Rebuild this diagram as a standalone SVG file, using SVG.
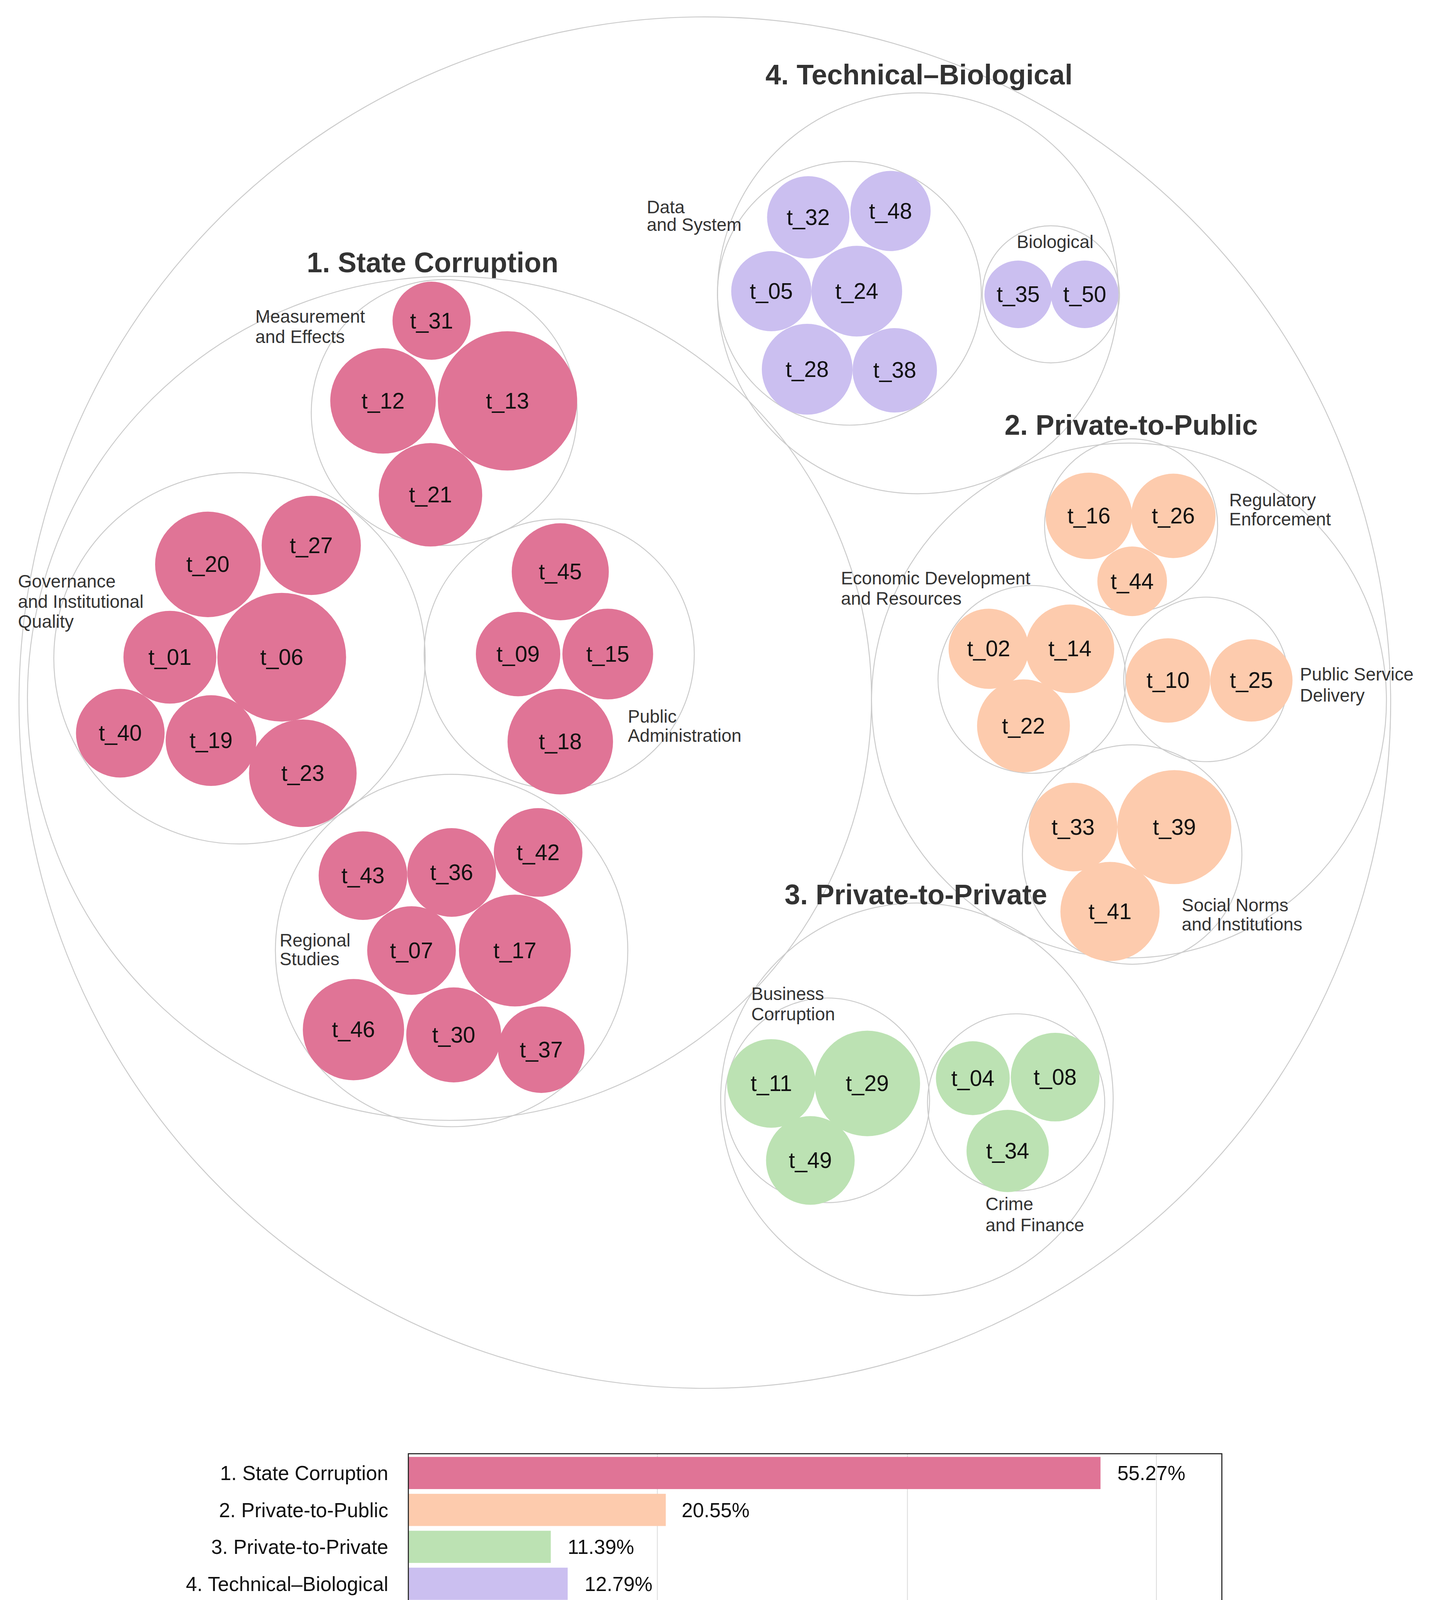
<svg xmlns="http://www.w3.org/2000/svg" width="3673" height="4226" viewBox="0 0 3673 4226">
<style>
.c{fill:none;stroke:#cbcbcb;stroke-width:0.9}
.p{fill:#e07496}.o{fill:#fdcbad}.g{fill:#bce2b3}.l{fill:#cbbff0}
text{font-family:"Liberation Sans",Arial,sans-serif;fill:#111}
.t{font-size:21px;text-anchor:middle;dominant-baseline:central}
.h{font-size:26.5px;font-weight:bold;text-anchor:middle;fill:#333}
.s{font-size:17px;fill:#333}
.b{font-size:19px}
</style>
<rect width="3673" height="4226" fill="#fff"/>
<g transform="scale(2.7007)">
<circle class="c" cx="668" cy="666" r="650"/>
<g id="g1">
<circle class="c" cx="426" cy="662" r="400"/>
<text class="h" x="410" y="258">1. State Corruption</text>
<g id="meas"><circle class="c" cx="421" cy="391" r="126"/>
<text class="s" x="242" y="306">Measurement</text><text class="s" x="242" y="325">and Effects</text>
<circle class="p" cx="409" cy="304" r="37"/><text class="t" x="409" y="304">t_31</text>
<circle class="p" cx="363" cy="380" r="50"/><text class="t" x="363" y="380">t_12</text>
<circle class="p" cx="481" cy="380" r="66"/><text class="t" x="481" y="380">t_13</text>
<circle class="p" cx="408" cy="469" r="49"/><text class="t" x="408" y="469">t_21</text></g>
<g id="gov"><circle class="c" cx="227" cy="624" r="176"/>
<text class="s" x="17" y="557">Governance</text><text class="s" x="17" y="576">and Institutional</text><text class="s" x="17" y="595">Quality</text>
<circle class="p" cx="197" cy="535" r="50"/><text class="t" x="197" y="535">t_20</text>
<circle class="p" cx="295" cy="517" r="47"/><text class="t" x="295" y="517">t_27</text>
<circle class="p" cx="161" cy="623" r="44"/><text class="t" x="161" y="623">t_01</text>
<circle class="p" cx="267" cy="623" r="61"/><text class="t" x="267" y="623">t_06</text>
<circle class="p" cx="114" cy="695" r="42"/><text class="t" x="114" y="695">t_40</text>
<circle class="p" cx="200" cy="702" r="43"/><text class="t" x="200" y="702">t_19</text>
<circle class="p" cx="287" cy="733" r="51"/><text class="t" x="287" y="733">t_23</text></g>
<g id="pub"><circle class="c" cx="530" cy="620" r="128"/>
<text class="s" x="595" y="685">Public</text><text class="s" x="595" y="703">Administration</text>
<circle class="p" cx="531" cy="542" r="46"/><text class="t" x="531" y="542">t_45</text>
<circle class="p" cx="491" cy="620" r="40"/><text class="t" x="491" y="620">t_09</text>
<circle class="p" cx="576" cy="620" r="43"/><text class="t" x="576" y="620">t_15</text>
<circle class="p" cx="531" cy="703" r="50"/><text class="t" x="531" y="703">t_18</text></g>
<g id="reg"><circle class="c" cx="428" cy="901" r="167"/>
<text class="s" x="265" y="897">Regional</text><text class="s" x="265" y="915">Studies</text>
<circle class="p" cx="344" cy="830" r="42"/><text class="t" x="344" y="830">t_43</text>
<circle class="p" cx="428" cy="827" r="42"/><text class="t" x="428" y="827">t_36</text>
<circle class="p" cx="510" cy="808" r="42"/><text class="t" x="510" y="808">t_42</text>
<circle class="p" cx="390" cy="901" r="42"/><text class="t" x="390" y="901">t_07</text>
<circle class="p" cx="488" cy="901" r="53"/><text class="t" x="488" y="901">t_17</text>
<circle class="p" cx="335" cy="976" r="48"/><text class="t" x="335" y="976">t_46</text>
<circle class="p" cx="430" cy="981" r="45"/><text class="t" x="430" y="981">t_30</text>
<circle class="p" cx="513" cy="995" r="41"/><text class="t" x="513" y="995">t_37</text></g>
</g>
<g id="g4">
<circle class="c" cx="870" cy="278" r="190"/>
<text class="h" x="871" y="80">4. Technical–Biological</text>
<g id="data"><circle class="c" cx="805" cy="278" r="125"/>
<text class="s" x="613" y="202">Data</text><text class="s" x="613" y="219">and System</text>
<circle class="l" cx="766" cy="206" r="39"/><text class="t" x="766" y="206">t_32</text>
<circle class="l" cx="844" cy="200" r="38"/><text class="t" x="844" y="200">t_48</text>
<circle class="l" cx="731" cy="276" r="38"/><text class="t" x="731" y="276">t_05</text>
<circle class="l" cx="812" cy="276" r="43"/><text class="t" x="812" y="276">t_24</text>
<circle class="l" cx="765" cy="350" r="43"/><text class="t" x="765" y="350">t_28</text>
<circle class="l" cx="848" cy="351" r="40"/><text class="t" x="848" y="351">t_38</text></g>
<g id="bio"><circle class="c" cx="996" cy="279" r="65"/>
<text class="s" x="1000" y="235" text-anchor="middle">Biological</text>
<circle class="l" cx="965" cy="279" r="32"/><text class="t" x="965" y="279">t_35</text>
<circle class="l" cx="1028" cy="279" r="32"/><text class="t" x="1028" y="279">t_50</text></g>
</g>
<g id="g2">
<circle class="c" cx="1070" cy="664" r="244"/>
<text class="h" x="1072" y="412">2. Private-to-Public</text>
<g id="regu"><circle class="c" cx="1072" cy="498" r="82"/>
<text class="s" x="1165" y="480">Regulatory</text><text class="s" x="1165" y="498">Enforcement</text>
<circle class="o" cx="1032" cy="489" r="41"/><text class="t" x="1032" y="489">t_16</text>
<circle class="o" cx="1112" cy="489" r="40"/><text class="t" x="1112" y="489">t_26</text>
<circle class="o" cx="1073" cy="551" r="33"/><text class="t" x="1073" y="551">t_44</text></g>
<g id="econ"><circle class="c" cx="978" cy="644" r="89"/>
<text class="s" x="797" y="554">Economic Development</text><text class="s" x="797" y="573">and Resources</text>
<circle class="o" cx="937" cy="615" r="38"/><text class="t" x="937" y="615">t_02</text>
<circle class="o" cx="1014" cy="615" r="42"/><text class="t" x="1014" y="615">t_14</text>
<circle class="o" cx="970" cy="688" r="44"/><text class="t" x="970" y="688">t_22</text></g>
<g id="psd"><circle class="c" cx="1143" cy="644" r="78"/>
<text class="s" x="1232" y="645">Public Service</text><text class="s" x="1232" y="665">Delivery</text>
<circle class="o" cx="1107" cy="645" r="40"/><text class="t" x="1107" y="645">t_10</text>
<circle class="o" cx="1186" cy="645" r="39"/><text class="t" x="1186" y="645">t_25</text></g>
<g id="soc"><circle class="c" cx="1073" cy="810" r="104"/>
<text class="s" x="1120" y="864">Social Norms</text><text class="s" x="1120" y="882">and Institutions</text>
<circle class="o" cx="1017" cy="784" r="42"/><text class="t" x="1017" y="784">t_33</text>
<circle class="o" cx="1113" cy="784" r="54"/><text class="t" x="1113" y="784">t_39</text>
<circle class="o" cx="1052" cy="864" r="47"/><text class="t" x="1052" y="864">t_41</text></g>
</g>
<g id="g3">
<circle class="c" cx="869" cy="1042" r="186"/>
<text class="h" x="868" y="857">3. Private-to-Private</text>
<g id="bus"><circle class="c" cx="784" cy="1043" r="97"/>
<text class="s" x="712" y="948">Business</text><text class="s" x="712" y="967">Corruption</text>
<circle class="g" cx="731" cy="1027" r="42"/><text class="t" x="731" y="1027">t_11</text>
<circle class="g" cx="822" cy="1027" r="50"/><text class="t" x="822" y="1027">t_29</text>
<circle class="g" cx="768" cy="1100" r="42"/><text class="t" x="768" y="1100">t_49</text></g>
<g id="crime"><circle class="c" cx="963" cy="1045" r="84"/>
<text class="s" x="934" y="1147">Crime</text><text class="s" x="934" y="1167">and Finance</text>
<circle class="g" cx="922" cy="1022" r="35"/><text class="t" x="922" y="1022">t_04</text>
<circle class="g" cx="1000" cy="1021" r="42"/><text class="t" x="1000" y="1021">t_08</text>
<circle class="g" cx="955" cy="1091" r="39"/><text class="t" x="955" y="1091">t_34</text></g>
</g>
<g id="bars">
<line x1="623" y1="1378" x2="623" y2="1518" stroke="#ddd" stroke-width="0.8"/>
<line x1="860" y1="1378" x2="860" y2="1518" stroke="#ddd" stroke-width="0.8"/>
<line x1="1096" y1="1378" x2="1096" y2="1518" stroke="#ddd" stroke-width="0.8"/>
<rect class="p" x="387" y="1381" width="656" height="30.5"/>
<rect class="o" x="387" y="1416" width="244" height="30.5"/>
<rect class="g" x="387" y="1451" width="135" height="30.5"/>
<rect class="l" x="387" y="1486" width="151" height="30.5"/>
<rect x="387" y="1378" width="771" height="140" fill="none" stroke="#222" stroke-width="1"/>
<g stroke="#222" stroke-width="1"><line x1="387" y1="1518" x2="387" y2="1524"/><line x1="623" y1="1518" x2="623" y2="1524"/><line x1="860" y1="1518" x2="860" y2="1524"/><line x1="1096" y1="1518" x2="1096" y2="1524"/></g>
<text class="b" x="368" y="1403" text-anchor="end">1. State Corruption</text>
<text class="b" x="368" y="1438" text-anchor="end">2. Private-to-Public</text>
<text class="b" x="368" y="1473" text-anchor="end">3. Private-to-Private</text>
<text class="b" x="368" y="1508" text-anchor="end">4. Technical–Biological</text>
<text class="b" x="1059" y="1403">55.27%</text>
<text class="b" x="646" y="1438">20.55%</text>
<text class="b" x="538" y="1473">11.39%</text>
<text class="b" x="554" y="1508">12.79%</text>
<g text-anchor="middle"><text class="b" x="387" y="1544">0%</text><text class="b" x="623" y="1544">20%</text><text class="b" x="860" y="1544">40%</text><text class="b" x="1096" y="1544">60%</text></g>
</g>
</g>
</svg>
